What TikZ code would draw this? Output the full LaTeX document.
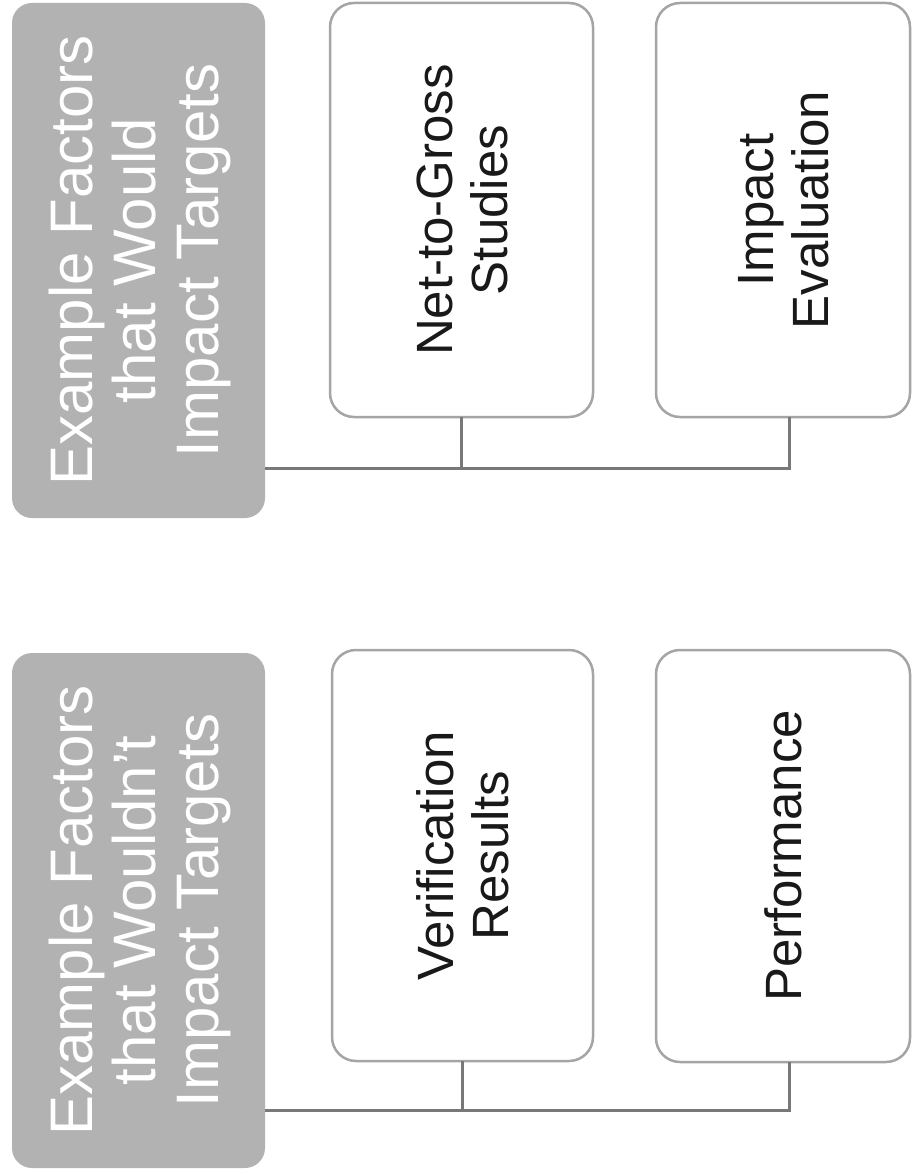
\documentclass[tikz,border=0pt]{standalone}
\usepackage{fontspec}
\setmainfont{Liberation Sans}
\usepackage{graphicx}
\definecolor{hdrfill}{RGB}{178,178,178}
\definecolor{boxline}{RGB}{165,165,165}
\definecolor{connline}{RGB}{120,120,120}
\definecolor{txt}{RGB}{25,25,25}
\tikzset{
  hdrbox/.style={fill=hdrfill, draw=none, rounded corners=20pt, inner sep=0pt, outer sep=0pt,
    minimum width=253pt, minimum height=515pt, text=white},
  childbox/.style={fill=white, draw=boxline, line width=2.5pt, rounded corners=24pt, inner sep=0pt, outer sep=0pt,
    minimum height=414pt, text=txt},
  conn/.style={draw=connline, line width=3pt}
}
\newcommand{\hdrtext}[1]{\rotatebox{90}{\fontsize{60}{63}\selectfont\raisebox{-4.5pt}[\height][\depth]{\begin{tabular}{@{}c@{}}#1\end{tabular}}}}
\newcommand{\childtext}[1]{\rotatebox{90}{\fontsize{51}{55}\selectfont\raisebox{-7pt}[\height][\depth]{\begin{tabular}{@{}c@{}}#1\end{tabular}}}}
\begin{document}
\begin{tikzpicture}[x=1pt,y=-1pt]
\useasboundingbox (0,0) rectangle (912,1174);
% top group
\node[hdrbox] (hw) at (138.5,260.5) {\hdrtext{Example Factors\\that Would\\Impact Targets}};
\node[childbox, minimum width=263pt, minimum height=414pt] (ng) at (461.5,210) {\childtext{Net-to-Gross\\Studies}};
\node[childbox, minimum width=254pt, minimum height=414pt] (ie) at (783,210) {\childtext{Impact\\Evaluation}};
\coordinate (j1) at (789,468);
\draw[conn] (hw.east |- j1) -- (j1) -- (j1 |- ie.south);
\draw[conn] (ng.south) -- (ng.south |- j1);
% bottom group
\node[hdrbox] (hn) at (138.5,910.5) {\hdrtext{Example Factors\\that Wouldn’t\\Impact Targets}};
\node[childbox, minimum width=261pt, minimum height=411pt] (vr) at (462.5,855.5) {\childtext{Verification\\Results}};
\node[childbox, minimum width=254pt, minimum height=412pt] (pf) at (783,856) {\childtext{Performance}};
\coordinate (j2) at (789,1110);
\draw[conn] (hn.east |- j2) -- (j2) -- (j2 |- pf.south);
\draw[conn] (vr.south) -- (vr.south |- j2);
\end{tikzpicture}
\end{document}
